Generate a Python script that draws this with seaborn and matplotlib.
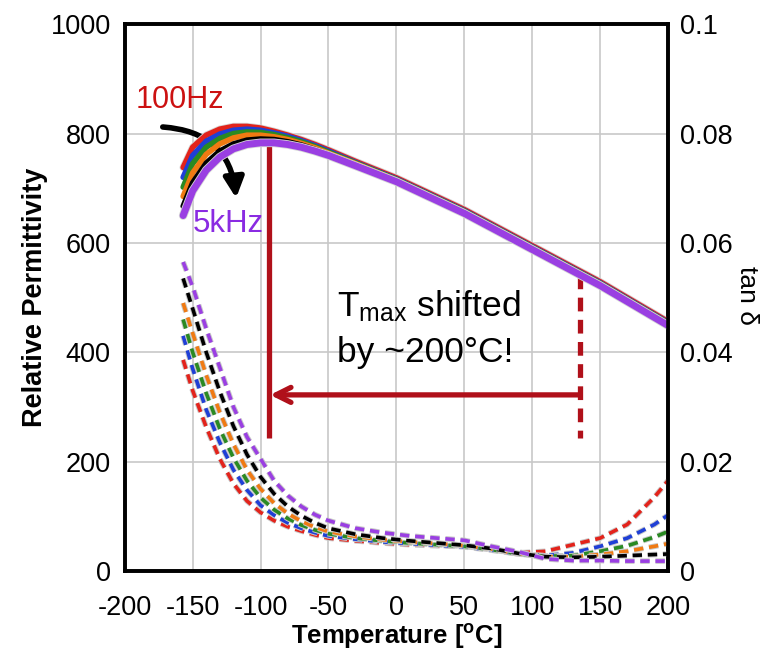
import numpy as np
import pandas as pd
import matplotlib
matplotlib.use("Agg")
import matplotlib.pyplot as plt
import matplotlib.patheffects as pe
import seaborn as sns

# ---------------- data ----------------
freqs = ["100Hz", "200Hz", "500Hz", "1kHz", "2kHz", "5kHz"]
colors = ["#e3231b", "#1f3fd6", "#2a8a22", "#f07a12", "#000000", "#9a3fe2"]

T_perm = [-157, -150, -140, -130, -120, -110, -100, -90, -80, -70, -60, -50,
          -30, 0, 50, 100, 150, 200]
perm_100Hz = [738, 775, 797, 808, 813, 813, 810, 804, 797, 789, 780, 770,
              749, 719, 661, 595, 529, 456]
perm_200Hz = [720, 760, 786, 799, 806, 808, 806, 801, 795, 787, 778, 768,
              747, 717, 659, 593, 527, 454]
perm_500Hz = [702, 745, 775, 791, 800, 803, 802, 798, 792, 785, 776, 766,
              746, 716, 658, 592, 526, 453]
perm_1kHz = [685, 728, 762, 781, 792, 797, 797, 794, 789, 782, 774, 764,
             745, 715, 657, 591, 525, 452]
perm_2kHz = [667, 710, 746, 768, 781, 788, 790, 789, 785, 779, 771, 762,
             743, 714, 656, 590, 524, 451]
perm_5kHz = [650, 695, 733, 757, 772, 780, 783, 783, 780, 775, 768, 760,
             741, 712, 654, 588, 522, 449]

T_tan = [-157, -150, -140, -130, -120, -110, -100, -90, -80, -70, -60, -50,
         -30, -10, 10, 30, 50, 70, 90, 110, 130, 150, 170, 190, 200]
tan_100Hz = [0.0386, 0.0330, 0.0263, 0.0205, 0.0160, 0.0128, 0.0107, 0.0092,
             0.0081, 0.0073, 0.0066, 0.0060, 0.0055, 0.0051, 0.0048, 0.0046,
             0.0045, 0.0040, 0.0033, 0.0036, 0.0048, 0.0060, 0.0085, 0.0135,
             0.0165]
tan_200Hz = [0.0430, 0.0370, 0.0295, 0.0235, 0.0185, 0.0148, 0.0120, 0.0102,
             0.0088, 0.0078, 0.0070, 0.0064, 0.0058, 0.0053, 0.0050, 0.0047,
             0.0044, 0.0038, 0.0031, 0.0028, 0.0033, 0.0045, 0.0060, 0.0085,
             0.0102]
tan_500Hz = [0.0460, 0.0400, 0.0325, 0.0260, 0.0207, 0.0165, 0.0134, 0.0112,
             0.0096, 0.0084, 0.0075, 0.0068, 0.0060, 0.0055, 0.0051, 0.0048,
             0.0045, 0.0039, 0.0031, 0.0027, 0.0028, 0.0036, 0.0046, 0.0062,
             0.0072]
tan_1kHz = [0.0490, 0.0435, 0.0358, 0.0290, 0.0232, 0.0185, 0.0150, 0.0124,
            0.0105, 0.0091, 0.0080, 0.0072, 0.0063, 0.0057, 0.0053, 0.0050,
            0.0046, 0.0040, 0.0031, 0.0026, 0.0026, 0.0030, 0.0036, 0.0045,
            0.0050]
tan_2kHz = [0.0535, 0.0480, 0.0400, 0.0328, 0.0265, 0.0213, 0.0172, 0.0141,
            0.0118, 0.0101, 0.0088, 0.0078, 0.0067, 0.0060, 0.0055, 0.0051,
            0.0047, 0.0041, 0.0032, 0.0026, 0.0025, 0.0026, 0.0028, 0.0030,
            0.0031]
tan_5kHz = [0.0565, 0.0520, 0.0443, 0.0372, 0.0300, 0.0245, 0.0205, 0.0165,
            0.0138, 0.0118, 0.0103, 0.0092, 0.0078, 0.0070, 0.0064, 0.0060,
            0.0056, 0.0045, 0.0035, 0.0022, 0.0019, 0.0019, 0.0018, 0.0018,
            0.0018]

perm_series = [perm_100Hz, perm_200Hz, perm_500Hz, perm_1kHz, perm_2kHz, perm_5kHz]
tan_series = [tan_100Hz, tan_200Hz, tan_500Hz, tan_1kHz, tan_2kHz, tan_5kHz]

x_ticks = [-200, -150, -100, -50, 0, 50, 100, 150, 200]
y_ticks = [0, 200, 400, 600, 800, 1000]
y2_ticks = [0, 0.02, 0.04, 0.06, 0.08, 0.1]
y2_labels = ["0", "0.02", "0.04", "0.06", "0.08", "0.1"]

# ---------------- style ----------------
sns.set_theme(style="white")
plt.rcParams["font.family"] = ["Liberation Sans", "DejaVu Sans"]
plt.rcParams["mathtext.fontset"] = "custom"
plt.rcParams["mathtext.rm"] = "Liberation Sans"
plt.rcParams["mathtext.bf"] = "Liberation Sans:bold"
plt.rcParams["mathtext.it"] = "Liberation Sans:italic"
plt.rcParams["text.color"] = "black"
plt.rcParams["axes.labelcolor"] = "black"

fig = plt.figure(figsize=(7.7, 6.54), dpi=100)
ax = fig.add_axes([0.162, 0.127, 0.7055, 0.836])
ax2 = ax.twinx()

# tan delta (dashed) on secondary axis
for name, col, vals in zip(freqs, colors, tan_series):
    df = pd.DataFrame({"T": T_tan, "tan": vals})
    sns.lineplot(data=df, x="T", y="tan", ax=ax2, color=col, lw=2.6,
                 legend=False)
    ln = ax2.lines[-1]
    ln.set_dashes((2.6, 1.6))
    ln.set_path_effects([pe.Stroke(linewidth=4.0, foreground="#c8c8c8"), pe.Normal()])

# permittivity (solid, thick)
n = len(freqs)
for i, (name, col, vals) in enumerate(zip(freqs, colors, perm_series)):
    df = pd.DataFrame({"T": T_perm, "perm": vals})
    lw = 5.0 if i == n - 1 else 4.0
    sns.lineplot(data=df, x="T", y="perm", ax=ax2, color=col, lw=lw, legend=False,
                 transform=ax.transData)
    ln = ax2.lines[-1]
    ln.set_solid_capstyle("round")
    if i in (0, n - 1):
        ln.set_path_effects([pe.Stroke(linewidth=lw + 1.2, foreground="#d6d6d6"), pe.Normal()])

# axes setup
ax.set_xlim(-200, 200)
ax.set_ylim(0, 1000)
ax2.set_ylim(0, 0.1)
ax.set_xticks(x_ticks)
ax.set_xticklabels([str(v) for v in x_ticks])
ax.set_yticks(y_ticks)
ax.set_yticklabels([str(v) for v in y_ticks])
ax2.set_yticks(y2_ticks)
ax2.set_yticklabels(y2_labels)
ax.grid(True, color="#c8c8c8", lw=1.2)
ax.set_axisbelow(True)
for a in (ax, ax2):
    a.tick_params(length=0, labelsize=19.5, colors="black")
    for s in a.spines.values():
        s.set_color("black")
        s.set_linewidth(2.6)
ax.tick_params(axis="y", pad=10)
ax.tick_params(axis="x", pad=17)
ax2.tick_params(axis="y", pad=9)
ax2.set_xlabel("")
ax2.set_ylabel("")

ax.set_xlabel(r"Temperature [$^{\mathbf{o}}$C]", fontsize=18.5, fontweight="bold",
              labelpad=1, color="black")
ax.set_ylabel("Relative Permittivity", fontsize=19.5, fontweight="bold",
              labelpad=2, color="black")
fig.text(0.970, 0.549, "tan δ", rotation=270, fontsize=19, ha="center", va="center",
         color="black")

# annotations
dark_red = "#b0101a"
ax.plot([-94, -94], [779, 243], color=dark_red, lw=3.8, solid_capstyle="butt")
ax.plot([135, 135], [541, 243], color=dark_red, lw=3.8, ls=(0, (2.6, 1.6)))
ax.annotate("", xy=(-93, 322), xytext=(135, 322),
            arrowprops=dict(arrowstyle="->,head_length=0.9,head_width=0.45",
                            color=dark_red, lw=3.8, shrinkA=0, shrinkB=0))
ax.annotate("", xy=(-118, 682), xytext=(-172, 812),
            arrowprops=dict(arrowstyle="-|>,head_length=1.0,head_width=0.5",
                            color="black", lw=4.0, shrinkA=0, shrinkB=0,
                            connectionstyle="arc3,rad=-0.42"))
ax.text(-192, 847, "100Hz", color="#cc1111", fontsize=22, ha="left", va="baseline")
ax.text(-150, 620, "5kHz", color="#8a2be2", fontsize=22.5, ha="left", va="baseline")
ax.text(-44, 465, r"T$_{\mathrm{max}}$ shifted", fontsize=25.5, ha="left",
        va="baseline", color="black")
ax.text(-44, 382, "by ~200°C!", fontsize=25.5, ha="left", va="baseline", color="black")

fig.savefig("out.png", dpi=100)
